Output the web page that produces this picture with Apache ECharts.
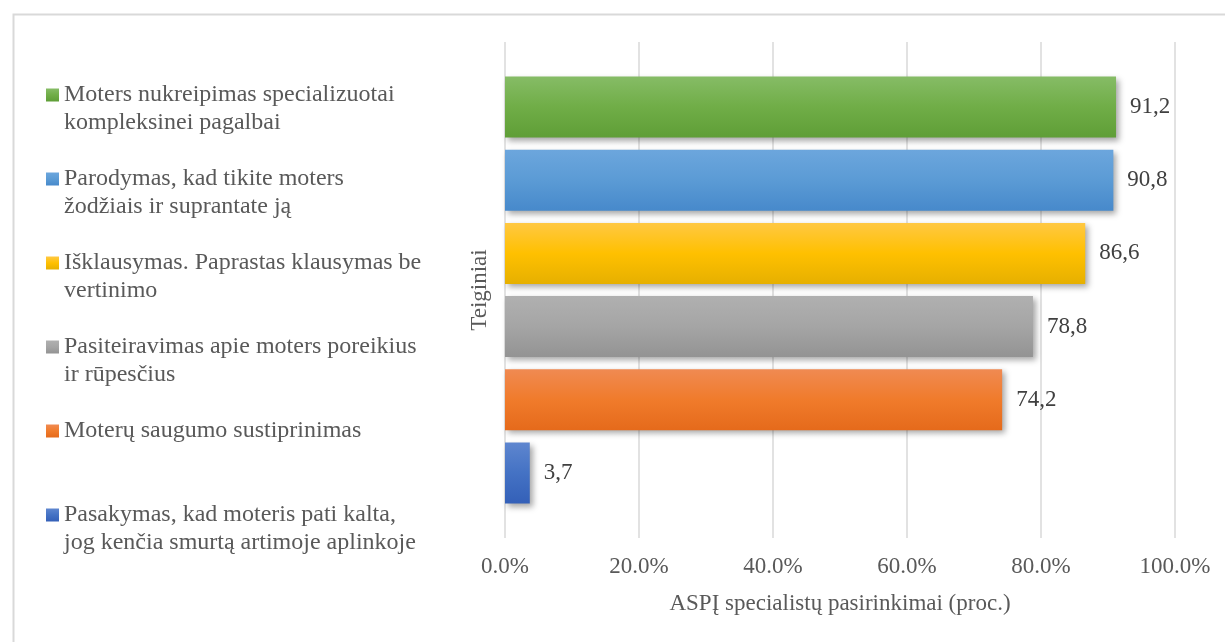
<!DOCTYPE html>
<html>
<head>
<meta charset="utf-8">
<script src="https://cdn.jsdelivr.net/npm/echarts@6/dist/echarts.min.js"></script>
<style>
    html, body { margin: 0; padding: 0; background: #fff; }
    #chart { width: 1225px; height: 642px; }
</style>
</head>
<body>
<div id="chart"></div>
<script>
// teiginiai, iš viršaus į apačią
const statements = [
    'Moters nukreipimas specializuotai\nkompleksinei pagalbai',
    'Parodymas, kad tikite moters\nžodžiais ir suprantate ją',
    'Išklausymas. Paprastas klausymas be\nvertinimo',
    'Pasiteiravimas apie moters poreikius\nir rūpesčius',
    'Moterų saugumo sustiprinimas\n ',
    'Pasakymas, kad moteris pati kalta,\njog kenčia smurtą artimoje aplinkoje'
]
const percents = [91.2, 90.8, 86.6, 78.8, 74.2, 3.7]
const axisTicks = [0, 20, 40, 60, 80, 100]

// spalvos: [šviesesnė, bazinė, tamsesnė]
const palette = [
    ['#86BC66', '#70AD47', '#5F9E37'],
    ['#6CA6DD', '#5B9BD5', '#4789CB'],
    ['#FFC843', '#FFC000', '#E6B000'],
    ['#B0B0B0', '#A5A5A5', '#939393'],
    ['#F08A52', '#F07B2B', '#E56A1B'],
    ['#5E86CF', '#4472C4', '#3460B8']
]
const FONT = '"Liberation Serif", "Times New Roman", serif'

const chart = echarts.init(document.getElementById('chart'))

function gradient(c) {
    return new echarts.graphic.LinearGradient(0, 0, 0, 1, [
        { offset: 0, color: c[0] },
        { offset: 0.5, color: c[1] },
        { offset: 1, color: c[2] }
    ])
}

const series = statements.map((name, i) => ({
    name,
    type: 'bar',
    data: [percents[i]],
    barWidth: 61,
    barGap: '20%',
    itemStyle: {
        color: gradient(palette[i]),
        shadowColor: 'rgba(0,0,0,0.35)',
        shadowBlur: 6,
        shadowOffsetX: 3,
        shadowOffsetY: 3
    },
    label: {
        show: true,
        position: 'right',
        distance: 14,
        fontFamily: FONT,
        fontSize: 23,
        color: '#404040',
        formatter: p => String(p.value).replace('.', ',')
    }
}))

const options = {
    animation: false,
    backgroundColor: '#fff',
    graphic: [{
        type: 'rect',
        left: 11,
        top: 12,
        shape: { width: 1230, height: 650 },
        style: { fill: 'none', stroke: '#d9d9d9', lineWidth: 2 },
        silent: true,
        z: -1
    }],
    legend: {
        orient: 'vertical',
        left: 46,
        top: 53,
        padding: 0,
        itemGap: 0,
        itemWidth: 13,
        itemHeight: 13,
        icon: 'rect',
        selectedMode: false,
        data: statements,
        // tuščia eilutė viršuje, kad ženklas būtų ties pirma teksto eilute
        formatter: name => ' \n' + name,
        textStyle: {
            fontFamily: FONT,
            fontSize: 24,
            lineHeight: 28,
            color: '#595959'
        }
    },
    grid: {
        left: 505,
        right: 50,
        top: 42,
        bottom: 104
    },
    xAxis: {
        type: 'value',
        min: axisTicks[0],
        max: axisTicks[axisTicks.length - 1],
        interval: axisTicks[1] - axisTicks[0],
        name: 'ASPĮ specialistų pasirinkimai (proc.)',
        nameLocation: 'middle',
        nameGap: 54,
        nameTextStyle: { fontFamily: FONT, fontSize: 23, color: '#595959' },
        axisLine: { show: false },
        axisTick: { show: false },
        axisLabel: {
            margin: 17,
            fontFamily: FONT,
            fontSize: 23,
            color: '#595959',
            formatter: v => v.toFixed(1) + '%'
        },
        splitLine: { lineStyle: { color: '#d9d9d9', width: 1.5 } }
    },
    yAxis: {
        type: 'category',
        data: [''],
        name: 'Teiginiai',
        nameLocation: 'middle',
        nameGap: 14,
        nameTextStyle: { fontFamily: FONT, fontSize: 23, color: '#595959' },
        axisLine: { show: false },
        axisTick: { show: false },
        axisLabel: { show: false }
    },
    series
}

chart.setOption(options)
</script>
</body>
</html>
